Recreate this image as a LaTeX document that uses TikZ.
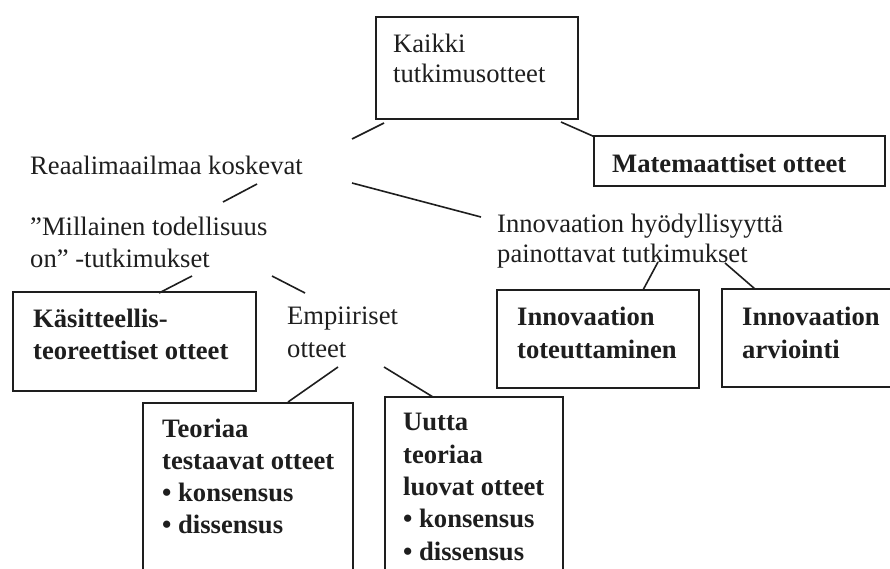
\documentclass[tikz,border=0pt]{standalone}
\usepackage{fontspec}
\setmainfont{Liberation Serif}
\definecolor{ink}{HTML}{1E1E1E}
\begin{document}
\begin{tikzpicture}[x=1pt,y=-1pt,
  txt/.style={anchor=base west, inner sep=0pt, text=ink, font=\fontsize{26.6}{32}\selectfont},
  btxt/.style={txt, font=\fontsize{26.6}{32}\selectfont\bfseries},
  box/.style={draw=ink, line width=1.8pt, rectangle, inner sep=0pt},
  link/.style={draw=ink, line width=1.6pt}]
\useasboundingbox[fill=white] (0,0) rectangle (890,568);

% boxes
\node[box, minimum width=202, minimum height=102] (kaikki) at (477,68) {};
\node[box, minimum width=291, minimum height=50] (matem) at (739.5,161) {};
\node[box, minimum width=243, minimum height=99] (kasitt) at (134.5,341.5) {};
\node[box, minimum width=202, minimum height=98] (toteut) at (598,339) {};
\node[box, minimum width=178, minimum height=98] (arvioi) at (811,338) {};
\node[box, minimum width=210, minimum height=177] (teoriaa) at (248,491.5) {};
\node[box, minimum width=178, minimum height=183] (uutta) at (474,488.5) {};

% texts
\node[txt] (kaikki1) at (393,52) {Kaikki};
\node[txt] (kaikki2) at (393,82) {tutkimusotteet};
\node[txt] (reaali) at (30,174) {Reaalimaailmaa koskevat};
\node[btxt] (matemt) at (612,172) {Matemaattiset otteet};
\node[txt] (mill1) at (30,235) {”Millainen todellisuus};
\node[txt] (mill2) at (30,267) {on” -tutkimukset};
\node[txt] (innov1) at (497,232) {Innovaation hyödyllisyyttä};
\node[txt] (innov2) at (497,262) {painottavat tutkimukset};
\node[btxt] (kas1) at (33,327) {Käsitteellis-};
\node[btxt] (kas2) at (33,359) {teoreettiset otteet};
\node[txt] (emp1) at (287,324) {Empiiriset};
\node[txt] (emp2) at (287,357) {otteet};
\node[btxt] (tot1) at (517,325) {Innovaation};
\node[btxt] (tot2) at (517,358) {toteuttaminen};
\node[btxt] (arv1) at (742,325) {Innovaation};
\node[btxt] (arv2) at (742,358) {arviointi};
\node[btxt] (teo1) at (162,437) {Teoriaa};
\node[btxt] (teo2) at (162,469) {testaavat otteet};
\node[btxt] (teo3) at (162,501) {• konsensus};
\node[btxt] (teo4) at (162,533) {• dissensus};
\node[btxt] (uut1) at (403,430) {Uutta};
\node[btxt] (uut2) at (403,463) {teoriaa};
\node[btxt] (uut3) at (403,495) {luovat otteet};
\node[btxt] (uut4) at (403,527) {• konsensus};
\node[btxt] (uut5) at (403,560) {• dissensus};

% connector ends
\coordinate (a1) at (384,123); \coordinate (b1) at (352,139);
\coordinate (a2) at (561,122); \coordinate (b2) at (595,137);
\coordinate (a3) at (257,184); \coordinate (b3) at (223,202);
\coordinate (a4) at (352,183); \coordinate (b4) at (481,217);
\coordinate (a5) at (192,276); \coordinate (b5) at (159,293);
\coordinate (a6) at (272,276); \coordinate (b6) at (305,293);
\coordinate (a7) at (338,367); \coordinate (b7) at (288,402);
\coordinate (a8) at (384,367); \coordinate (b8) at (433,397);
\coordinate (a9) at (658,262); \coordinate (b9) at (643,290);
\coordinate (a10) at (725,263); \coordinate (b10) at (755,289);

\foreach \i in {1,...,10} \draw[link] (a\i) -- (b\i);
\end{tikzpicture}
\end{document}
